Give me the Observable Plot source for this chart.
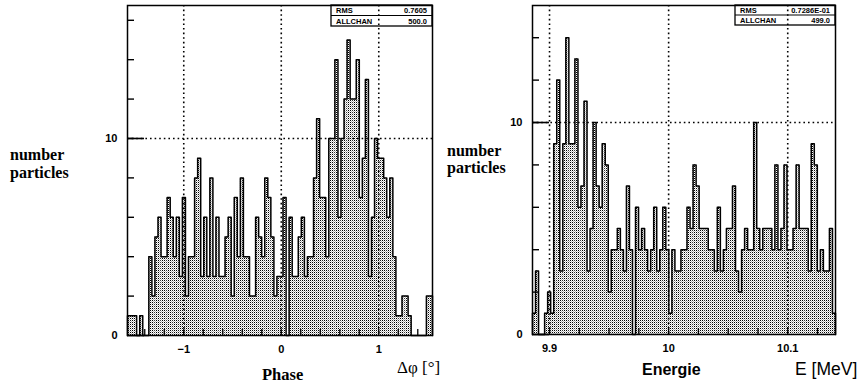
<!DOCTYPE html>
<html>
<head>
<meta charset="utf-8">
<script src="https://cdn.jsdelivr.net/npm/d3@7"></script>
<script src="https://cdn.jsdelivr.net/npm/@observablehq/plot@0.6"></script>
<style>
  html, body { margin: 0; padding: 0; background: #fff; }
  #page { position: relative; width: 861px; height: 387px; overflow: hidden; background: #fff; }
  #page > svg { position: absolute; top: 0; }
</style>
</head>
<body>
<div id="page"></div>
<script>
// Phase histogram: 100 equal bins over the phase range (degrees)
const phaseRange = [-1.577, 1.551];
const phaseCounts = [
  1, 1, 1, 0, 1, 0, 0, 4, 2, 5,
  6, 4, 4, 7, 6, 4, 6, 3, 7, 2,
  4, 4, 8, 9, 3, 6, 3, 8, 3, 6,
  3, 3, 5, 6, 2, 7, 4, 8, 4, 4,
  2, 2, 6, 5, 4, 8, 7, 5, 2, 3,
  3, 7, 0, 6, 3, 3, 5, 6, 3, 4,
  4, 8, 11, 7, 7, 4, 10, 10, 14, 6,
  10, 12, 15, 12, 12, 14, 7, 9, 13, 3,
  6, 10, 9, 9, 8, 6, 8, 4, 1, 1,
  2, 2, 1, 0, 0, 0, 0, 0, 2, 2
];
const phaseTicks = [-1, 0, 1];
const phaseMinorTicks = [-1.4, -1.2, -1, -0.8, -0.6, -0.4, -0.2, 0, 0.2, 0.4, 0.6, 0.8, 1, 1.2, 1.4];
const phaseStats = [["RMS", "0.7605"], ["ALLCHAN", "500.0"]];

// Energy histogram: 100 equal bins over the energy range (MeV)
const energyRange = [9.8857, 10.1401];
const energyCounts = [
  1, 3, 0, 0, 1, 2, 1, 9, 12, 3,
  9, 14, 9, 9, 13, 6, 7, 11, 3, 5,
  10, 7, 6, 9, 8, 2, 4, 4, 5, 4,
  3, 7, 4, 0, 6, 4, 5, 4, 3, 4,
  6, 3, 4, 6, 4, 1, 4, 3, 3, 4,
  4, 6, 5, 8, 7, 5, 5, 5, 4, 4,
  3, 6, 3, 4, 5, 5, 7, 3, 2, 4,
  5, 4, 4, 10, 5, 4, 5, 5, 5, 4,
  8, 4, 5, 8, 4, 4, 5, 8, 5, 5,
  5, 3, 9, 8, 3, 4, 3, 3, 5, 1
];
const energyTicks = [9.9, 10, 10.1];
const energyMinorTicks = [9.9, 9.925, 9.95, 9.975, 10, 10.025, 10.05, 10.075, 10.1, 10.125];
const energyStats = [["RMS", "0.7286E-01"], ["ALLCHAN", "499.0"]];

const countTicks = [0, 10];
const countGrid = [10];

// Shortest decimal form, with a true minus sign
const tickText = d => String(+d.toFixed(6)).replace("-", "\u2212");

// Turn a list of counts into bin records with left/right edges
function toBins(range, counts) {
  const w = (range[1] - range[0]) / counts.length;
  return counts.map((n, i) => ({x1: range[0] + i * w, x2: range[0] + (i + 1) * w, n}));
}

// Vertices of the histogram contour, drawn with a step-after curve
function contour(bins) {
  const last = bins[bins.length - 1];
  const pts = [{x: bins[0].x1, n: 0}];
  for (const b of bins) pts.push({x: b.x1, n: b.n});
  pts.push({x: last.x2, n: last.n});
  pts.push({x: last.x2, n: 0});
  return pts;
}

// Fine stipple used as the histogram fill
function stipple(id) {
  return () => {
    const defs = d3.create("svg:defs");
    const p = defs.append("pattern")
      .attr("id", id)
      .attr("patternUnits", "userSpaceOnUse")
      .attr("width", 2).attr("height", 2);
    p.append("rect").attr("width", 2).attr("height", 2).attr("fill", "#fff");
    p.append("rect").attr("width", 1).attr("height", 1).attr("fill", "#000");
    p.append("rect").attr("x", 1).attr("y", 1).attr("width", 1).attr("height", 1).attr("fill", "#b4b4b4");
    return defs.node();
  };
}

function histogram({range, counts, ticks, minorTicks, yMax, width, marginLeft, marginRight, marginBottom, patternId}) {
  const bins = toBins(range, counts);
  const ink = "#000";
  return Plot.plot({
    width,
    height: 387,
    marginLeft,
    marginRight,
    marginTop: 5,
    marginBottom,
    style: {background: "transparent", overflow: "visible"},
    x: {domain: range},
    y: {domain: [0, yMax]},
    marks: [
      stipple(patternId),
      Plot.rectY(bins, {x1: "x1", x2: "x2", y: "n", fill: `url(#${patternId})`}),
      Plot.lineY(contour(bins), {x: "x", y: "n", curve: "step-after", stroke: ink, strokeWidth: 1.5}),
      Plot.ruleX(ticks, {stroke: ink, strokeWidth: 1.6, strokeDasharray: "1.6,3"}),
      Plot.ruleY(countGrid, {stroke: ink, strokeWidth: 1.6, strokeDasharray: "1.6,3"}),
      // inward minor ticks on the count axis
      Plot.axisY({ticks: d3.range(2, yMax, 2), tickSize: -7, tickFormat: () => "", strokeWidth: 1.4, label: null}),
      // longer ticks at the labelled counts
      Plot.axisY({ticks: countTicks, tickSize: -17, tickFormat: () => "", strokeWidth: 1.6, label: null}),
      Plot.axisY({ticks: countTicks, tickSize: 0, tickPadding: 10, fontSize: 11, fontWeight: "bold",
                  fontFamily: "Liberation Sans, Arial, sans-serif", tickFormat: tickText, label: null}),
      // inward ticks along the bottom edge
      Plot.axisX({ticks: minorTicks, tickSize: -6, tickFormat: () => "", strokeWidth: 1.3, label: null}),
      Plot.axisX({ticks, tickSize: 0, tickPadding: 10, fontSize: 11, fontWeight: "bold",
                  fontFamily: "Liberation Sans, Arial, sans-serif", tickFormat: tickText, label: null}),
      Plot.frame({stroke: ink, strokeWidth: 1.5})
    ]
  });
}

const page = document.getElementById("page");

const left = histogram({
  range: phaseRange, counts: phaseCounts, ticks: phaseTicks, minorTicks: phaseMinorTicks,
  yMax: 16.75, width: 440, marginLeft: 127, marginRight: 8, marginBottom: 52, patternId: "stipPhase"
});
left.style.left = "0px";
page.appendChild(left);

const right = histogram({
  range: energyRange, counts: energyCounts, ticks: energyTicks, minorTicks: energyMinorTicks,
  yMax: 15.52, width: 421, marginLeft: 92, marginRight: 26, marginBottom: 53, patternId: "stipEnergy"
});
right.style.left = "440px";
page.appendChild(right);

// Titles, axis captions and statistics boxes
const over = d3.select(page).append("svg")
  .attr("width", 861).attr("height", 387)
  .style("left", "0px")
  .style("pointer-events", "none");

const serif = "Liberation Serif, Times New Roman, serif";
const sans = "Liberation Sans, Arial, sans-serif";

function label(x, y, text, {font = serif, size = 16, weight = "bold", anchor = "start"} = {}) {
  over.append("text")
    .attr("x", x).attr("y", y)
    .attr("font-family", font).attr("font-size", size).attr("font-weight", weight)
    .attr("text-anchor", anchor).attr("fill", "#000")
    .text(text);
}

label(10, 160, "number");
label(10, 177.5, "particles");
label(447, 155.5, "number");
label(447, 173, "particles");
label(262, 380, "Phase", {size: 16.5});
label(397, 373, "Δφ [°]", {weight: "normal", size: 17});
label(642, 375, "Energie", {font: sans, size: 16});
label(795, 375, "E [MeV]", {font: sans, size: 17.5, weight: "normal"});

function statBox(x0, x1, y0, rowH, rows) {
  over.append("rect")
    .attr("x", x0).attr("y", y0).attr("width", x1 - x0).attr("height", rowH * rows.length)
    .attr("fill", "none").attr("stroke", "#000").attr("stroke-width", 1.3);
  over.append("line")
    .attr("x1", x0).attr("x2", x1).attr("y1", y0 + rowH).attr("y2", y0 + rowH)
    .attr("stroke", "#000").attr("stroke-width", 1);
  rows.forEach(([name, value], i) => {
    const y = y0 + rowH * (i + 1) - 2.5;
    over.append("text").attr("x", x0 + 5).attr("y", y)
      .attr("font-family", sans).attr("font-size", 7.5).attr("font-weight", "bold").text(name);
    over.append("text").attr("x", x1 - 5).attr("y", y).attr("text-anchor", "end")
      .attr("font-family", sans).attr("font-size", 7.5).attr("font-weight", "bold").text(value);
  });
}

statBox(331, 432, 5, 10.5, phaseStats);
statBox(735, 835, 5, 10, energyStats);
</script>
</body>
</html>
